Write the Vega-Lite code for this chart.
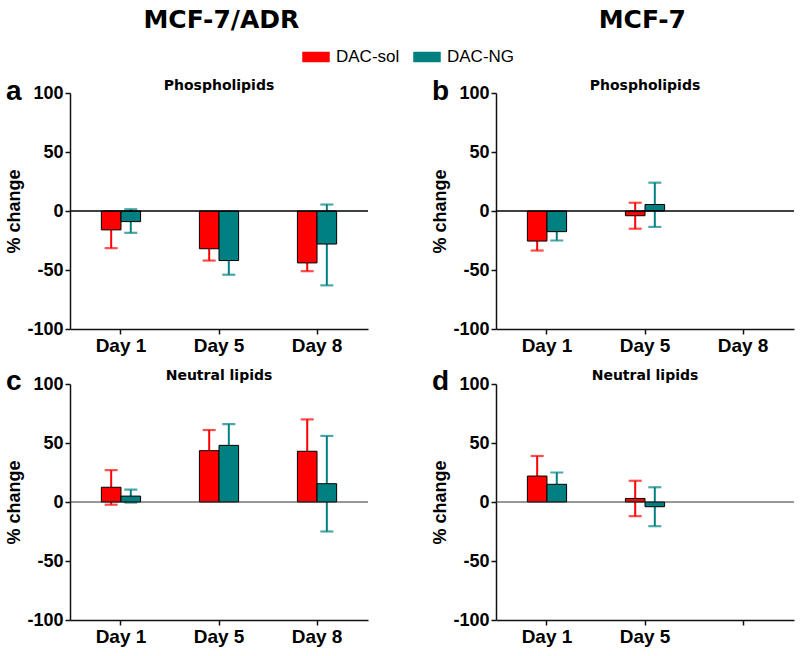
{
  "$schema": "https://vega.github.io/schema/vega-lite/v6.json",
  "background": "white",
  "padding": {"left": 5, "top": 8, "right": 5, "bottom": 5},
  "config": {
    "view": {"stroke": null},
    "font": "Liberation Sans",
    "title": {"font": "Liberation Sans", "fontWeight": "bold", "color": "black"},
    "axis": {"labelFont": "Liberation Sans", "titleFont": "Liberation Sans", "labelColor": "black", "titleColor": "black", "grid": false,
             "labelFontWeight": "bold", "labelPadding": 2, "tickSize": 5, "tickWidth": 1.5, "tickColor": "#111", "domainColor": "#111", "domainWidth": 1.5,
             "titleFontSize": 18, "titleFontWeight": "bold", "titlePadding": 3},
    "axisX": {"labelAngle": 0, "labelFontSize": 19},
    "axisY": {"values": [-100, -50, 0, 50, 100], "labelFontSize": 18, "labelExpr": "'' + datum.value"}
  },
  "datasets": {
    "bars": [
      {"panel": "a", "day": "Day 1", "group": "DAC-sol", "mean": -16, "lo": -31.5, "hi": -0.5},
      {"panel": "a", "day": "Day 1", "group": "DAC-NG", "mean": -9, "lo": -18.5, "hi": 1.5},
      {"panel": "a", "day": "Day 5", "group": "DAC-sol", "mean": -32, "lo": -42, "hi": -22},
      {"panel": "a", "day": "Day 5", "group": "DAC-NG", "mean": -42, "lo": -54, "hi": -30},
      {"panel": "a", "day": "Day 8", "group": "DAC-sol", "mean": -44, "lo": -51, "hi": -37},
      {"panel": "a", "day": "Day 8", "group": "DAC-NG", "mean": -28, "lo": -63, "hi": 5.5},
      {"panel": "b", "day": "Day 1", "group": "DAC-sol", "mean": -25.5, "lo": -33.5, "hi": -17.5},
      {"panel": "b", "day": "Day 1", "group": "DAC-NG", "mean": -17.5, "lo": -25, "hi": -10},
      {"panel": "b", "day": "Day 5", "group": "DAC-sol", "mean": -4, "lo": -15, "hi": 7},
      {"panel": "b", "day": "Day 5", "group": "DAC-NG", "mean": 5.5, "lo": -13.5, "hi": 24},
      {"panel": "c", "day": "Day 1", "group": "DAC-sol", "mean": 12.5, "lo": -2.3, "hi": 27},
      {"panel": "c", "day": "Day 1", "group": "DAC-NG", "mean": 5, "lo": -0.5, "hi": 10.5},
      {"panel": "c", "day": "Day 5", "group": "DAC-sol", "mean": 43.5, "lo": 26, "hi": 61},
      {"panel": "c", "day": "Day 5", "group": "DAC-NG", "mean": 48, "lo": 30, "hi": 66},
      {"panel": "c", "day": "Day 8", "group": "DAC-sol", "mean": 43, "lo": 16, "hi": 70},
      {"panel": "c", "day": "Day 8", "group": "DAC-NG", "mean": 15.5, "lo": -25, "hi": 56},
      {"panel": "d", "day": "Day 1", "group": "DAC-sol", "mean": 22, "lo": 5, "hi": 39},
      {"panel": "d", "day": "Day 1", "group": "DAC-NG", "mean": 15, "lo": 5, "hi": 25},
      {"panel": "d", "day": "Day 5", "group": "DAC-sol", "mean": 3, "lo": -12, "hi": 18},
      {"panel": "d", "day": "Day 5", "group": "DAC-NG", "mean": -4, "lo": -20.5, "hi": 12.5}
    ]
  },
  "hconcat": [
    {
      "title": {"text": "MCF-7/ADR", "font": "DejaVu Sans", "fontSize": 25, "anchor": "middle", "offset": 45, "dx": 34},
      "spacing": 13,
      "vconcat": [
        {
          "width": 298, "height": 236,
          "title": {"text": "a", "anchor": "start", "frame": "bounds", "fontSize": 28, "offset": -27},
          "layer": [
            {"data": {"name": "bars"}, "transform": [{"filter": "datum.panel === 'a'"}],
             "mark": {"type": "rule", "strokeWidth": 2},
             "encoding": {
               "x": {"field": "day", "type": "nominal", "title": null, "scale": {"domain": ["Day 1", "Day 5", "Day 8"], "paddingInner": 0.6, "paddingOuter": 0.32}},
               "xOffset": {"field": "group", "type": "nominal", "scale": {"domain": ["DAC-sol", "DAC-NG"], "paddingInner": 0, "paddingOuter": 0}},
               "y": {"field": "lo", "type": "quantitative", "title": "% change", "scale": {"domain": [-100, 100], "nice": false}},
               "y2": {"field": "hi"},
               "color": {"field": "group", "type": "nominal", "scale": {"domain": ["DAC-sol", "DAC-NG"], "range": ["#ff0000", "#008080"]}}
             }},
            {"data": {"name": "bars"}, "transform": [{"filter": "datum.panel === 'a'"}],
             "mark": {"type": "tick", "size": 13, "thickness": 2.2},
             "encoding": {
               "x": {"field": "day", "type": "nominal", "title": null},
               "xOffset": {"field": "group", "type": "nominal"},
               "y": {"field": "lo", "type": "quantitative", "title": "% change"},
               "color": {"field": "group", "type": "nominal"}
             }},
            {"data": {"name": "bars"}, "transform": [{"filter": "datum.panel === 'a'"}],
             "mark": {"type": "tick", "size": 13, "thickness": 2.2},
             "encoding": {
               "x": {"field": "day", "type": "nominal", "title": null},
               "xOffset": {"field": "group", "type": "nominal"},
               "y": {"field": "hi", "type": "quantitative", "title": "% change"},
               "color": {"field": "group", "type": "nominal"}
             }},
            {"data": {"name": "bars"}, "transform": [{"filter": "datum.panel === 'a'"}],
             "mark": {"type": "bar", "stroke": "black", "strokeWidth": 1},
             "encoding": {
               "x": {"field": "day", "type": "nominal", "title": null},
               "xOffset": {"field": "group", "type": "nominal"},
               "y": {"field": "mean", "type": "quantitative", "title": "% change"},
               "color": {"field": "group", "type": "nominal",
                         "legend": {"orient": "none", "legendX": 232, "legendY": -50, "direction": "horizontal", "title": null, "symbolType": "M-1,-0.37H1V0.37H-1Z", "symbolSize": 729, "symbolStrokeColor": "#333", "symbolStrokeWidth": 0.5, "symbolOpacity": 1, "labelFontSize": 17, "labelFont": "Liberation Sans", "labelFontWeight": "normal", "labelColor": "black", "labelOffset": 6, "columnPadding": 12,
                                    "encode": {"symbols": {"update": {"opacity": {"value": 1}, "fillOpacity": {"value": 1}}}}}}
             }},
            {"data": {"values": [{"z": 0}]}, "mark": {"type": "rule", "color": "black", "strokeWidth": 1.5},
             "encoding": {"y": {"field": "z", "type": "quantitative", "title": "% change"}}},
            {"data": {"values": [{"label": "Phospholipids"}]},
             "mark": {"type": "text", "font": "DejaVu Sans", "fontWeight": "bold", "fontSize": 14, "baseline": "alphabetic", "dy": -3, "color": "black"},
             "encoding": {"x": {"datum": "Day 5", "type": "nominal", "title": null}, "y": {"datum": 100, "type": "quantitative", "title": "% change"}, "text": {"field": "label"}}}
          ]
        },
        {
          "width": 298, "height": 236,
          "title": {"text": "c", "anchor": "start", "frame": "bounds", "fontSize": 28, "offset": -27},
          "layer": [
            {"data": {"name": "bars"}, "transform": [{"filter": "datum.panel === 'c'"}],
             "mark": {"type": "rule", "strokeWidth": 2},
             "encoding": {
               "x": {"field": "day", "type": "nominal", "title": null, "scale": {"domain": ["Day 1", "Day 5", "Day 8"], "paddingInner": 0.6, "paddingOuter": 0.32}},
               "xOffset": {"field": "group", "type": "nominal", "scale": {"domain": ["DAC-sol", "DAC-NG"], "paddingInner": 0, "paddingOuter": 0}},
               "y": {"field": "lo", "type": "quantitative", "title": "% change", "scale": {"domain": [-100, 100], "nice": false}},
               "y2": {"field": "hi"},
               "color": {"field": "group", "type": "nominal", "scale": {"domain": ["DAC-sol", "DAC-NG"], "range": ["#ff0000", "#008080"]}}
             }},
            {"data": {"name": "bars"}, "transform": [{"filter": "datum.panel === 'c'"}],
             "mark": {"type": "tick", "size": 13, "thickness": 2.2},
             "encoding": {
               "x": {"field": "day", "type": "nominal", "title": null},
               "xOffset": {"field": "group", "type": "nominal"},
               "y": {"field": "lo", "type": "quantitative", "title": "% change"},
               "color": {"field": "group", "type": "nominal"}
             }},
            {"data": {"name": "bars"}, "transform": [{"filter": "datum.panel === 'c'"}],
             "mark": {"type": "tick", "size": 13, "thickness": 2.2},
             "encoding": {
               "x": {"field": "day", "type": "nominal", "title": null},
               "xOffset": {"field": "group", "type": "nominal"},
               "y": {"field": "hi", "type": "quantitative", "title": "% change"},
               "color": {"field": "group", "type": "nominal"}
             }},
            {"data": {"name": "bars"}, "transform": [{"filter": "datum.panel === 'c'"}],
             "mark": {"type": "bar", "stroke": "black", "strokeWidth": 1},
             "encoding": {
               "x": {"field": "day", "type": "nominal", "title": null},
               "xOffset": {"field": "group", "type": "nominal"},
               "y": {"field": "mean", "type": "quantitative", "title": "% change"},
               "color": {"field": "group", "type": "nominal"}
             }},
            {"data": {"values": [{"z": 0}]}, "mark": {"type": "rule", "color": "#333", "strokeWidth": 1},
             "encoding": {"y": {"field": "z", "type": "quantitative", "title": "% change"}}},
            {"data": {"values": [{"label": "Neutral lipids"}]},
             "mark": {"type": "text", "font": "DejaVu Sans", "fontWeight": "bold", "fontSize": 14, "baseline": "alphabetic", "dy": -4, "color": "black"},
             "encoding": {"x": {"datum": "Day 5", "type": "nominal", "title": null}, "y": {"datum": 100, "type": "quantitative", "title": "% change"}, "text": {"field": "label"}}}
          ]
        }
      ]
    },
    {
      "title": {"text": "MCF-7", "font": "DejaVu Sans", "fontSize": 25, "anchor": "middle", "offset": 45, "dx": 29},
      "spacing": 13,
      "vconcat": [
        {
          "width": 298, "height": 236,
          "title": {"text": "b", "anchor": "start", "frame": "bounds", "fontSize": 28, "offset": -27},
          "layer": [
            {"data": {"name": "bars"}, "transform": [{"filter": "datum.panel === 'b'"}],
             "mark": {"type": "rule", "strokeWidth": 2},
             "encoding": {
               "x": {"field": "day", "type": "nominal", "title": null, "scale": {"domain": ["Day 1", "Day 5", "Day 8"], "paddingInner": 0.6, "paddingOuter": 0.32}},
               "xOffset": {"field": "group", "type": "nominal", "scale": {"domain": ["DAC-sol", "DAC-NG"], "paddingInner": 0, "paddingOuter": 0}},
               "y": {"field": "lo", "type": "quantitative", "title": "% change", "scale": {"domain": [-100, 100], "nice": false}},
               "y2": {"field": "hi"},
               "color": {"field": "group", "type": "nominal", "scale": {"domain": ["DAC-sol", "DAC-NG"], "range": ["#ff0000", "#008080"]}}
             }},
            {"data": {"name": "bars"}, "transform": [{"filter": "datum.panel === 'b'"}],
             "mark": {"type": "tick", "size": 13, "thickness": 2.2},
             "encoding": {
               "x": {"field": "day", "type": "nominal", "title": null},
               "xOffset": {"field": "group", "type": "nominal"},
               "y": {"field": "lo", "type": "quantitative", "title": "% change"},
               "color": {"field": "group", "type": "nominal"}
             }},
            {"data": {"name": "bars"}, "transform": [{"filter": "datum.panel === 'b'"}],
             "mark": {"type": "tick", "size": 13, "thickness": 2.2},
             "encoding": {
               "x": {"field": "day", "type": "nominal", "title": null},
               "xOffset": {"field": "group", "type": "nominal"},
               "y": {"field": "hi", "type": "quantitative", "title": "% change"},
               "color": {"field": "group", "type": "nominal"}
             }},
            {"data": {"name": "bars"}, "transform": [{"filter": "datum.panel === 'b'"}],
             "mark": {"type": "bar", "stroke": "black", "strokeWidth": 1},
             "encoding": {
               "x": {"field": "day", "type": "nominal", "title": null},
               "xOffset": {"field": "group", "type": "nominal"},
               "y": {"field": "mean", "type": "quantitative", "title": "% change"},
               "color": {"field": "group", "type": "nominal"}
             }},
            {"data": {"values": [{"z": 0}]}, "mark": {"type": "rule", "color": "black", "strokeWidth": 1.5},
             "encoding": {"y": {"field": "z", "type": "quantitative", "title": "% change"}}},
            {"data": {"values": [{"label": "Phospholipids"}]},
             "mark": {"type": "text", "font": "DejaVu Sans", "fontWeight": "bold", "fontSize": 14, "baseline": "alphabetic", "dy": -3, "color": "black"},
             "encoding": {"x": {"datum": "Day 5", "type": "nominal", "title": null}, "y": {"datum": 100, "type": "quantitative", "title": "% change"}, "text": {"field": "label"}}}
          ]
        },
        {
          "width": 298, "height": 236,
          "title": {"text": "d", "anchor": "start", "frame": "bounds", "fontSize": 28, "offset": -27},
          "layer": [
            {"data": {"name": "bars"}, "transform": [{"filter": "datum.panel === 'd'"}],
             "mark": {"type": "rule", "strokeWidth": 2},
             "encoding": {
               "x": {"field": "day", "type": "nominal", "title": null, "scale": {"domain": ["Day 1", "Day 5", "Day 8"], "paddingInner": 0.6, "paddingOuter": 0.32}, "axis": {"labelExpr": "datum.label === 'Day 8' ? '' : datum.label"}},
               "xOffset": {"field": "group", "type": "nominal", "scale": {"domain": ["DAC-sol", "DAC-NG"], "paddingInner": 0, "paddingOuter": 0}},
               "y": {"field": "lo", "type": "quantitative", "title": "% change", "scale": {"domain": [-100, 100], "nice": false}},
               "y2": {"field": "hi"},
               "color": {"field": "group", "type": "nominal", "scale": {"domain": ["DAC-sol", "DAC-NG"], "range": ["#ff0000", "#008080"]}}
             }},
            {"data": {"name": "bars"}, "transform": [{"filter": "datum.panel === 'd'"}],
             "mark": {"type": "tick", "size": 13, "thickness": 2.2},
             "encoding": {
               "x": {"field": "day", "type": "nominal", "title": null, "axis": {"labelExpr": "datum.label === 'Day 8' ? '' : datum.label"}},
               "xOffset": {"field": "group", "type": "nominal"},
               "y": {"field": "lo", "type": "quantitative", "title": "% change"},
               "color": {"field": "group", "type": "nominal"}
             }},
            {"data": {"name": "bars"}, "transform": [{"filter": "datum.panel === 'd'"}],
             "mark": {"type": "tick", "size": 13, "thickness": 2.2},
             "encoding": {
               "x": {"field": "day", "type": "nominal", "title": null, "axis": {"labelExpr": "datum.label === 'Day 8' ? '' : datum.label"}},
               "xOffset": {"field": "group", "type": "nominal"},
               "y": {"field": "hi", "type": "quantitative", "title": "% change"},
               "color": {"field": "group", "type": "nominal"}
             }},
            {"data": {"name": "bars"}, "transform": [{"filter": "datum.panel === 'd'"}],
             "mark": {"type": "bar", "stroke": "black", "strokeWidth": 1},
             "encoding": {
               "x": {"field": "day", "type": "nominal", "title": null, "axis": {"labelExpr": "datum.label === 'Day 8' ? '' : datum.label"}},
               "xOffset": {"field": "group", "type": "nominal"},
               "y": {"field": "mean", "type": "quantitative", "title": "% change"},
               "color": {"field": "group", "type": "nominal"}
             }},
            {"data": {"values": [{"z": 0}]}, "mark": {"type": "rule", "color": "#333", "strokeWidth": 1},
             "encoding": {"y": {"field": "z", "type": "quantitative", "title": "% change"}}},
            {"data": {"values": [{"label": "Neutral lipids"}]},
             "mark": {"type": "text", "font": "DejaVu Sans", "fontWeight": "bold", "fontSize": 14, "baseline": "alphabetic", "dy": -4, "color": "black"},
             "encoding": {"x": {"datum": "Day 5", "type": "nominal", "title": null, "axis": {"labelExpr": "datum.label === 'Day 8' ? '' : datum.label"}}, "y": {"datum": 100, "type": "quantitative", "title": "% change"}, "text": {"field": "label"}}}
          ]
        }
      ]
    }
  ],
  "spacing": 62
}
